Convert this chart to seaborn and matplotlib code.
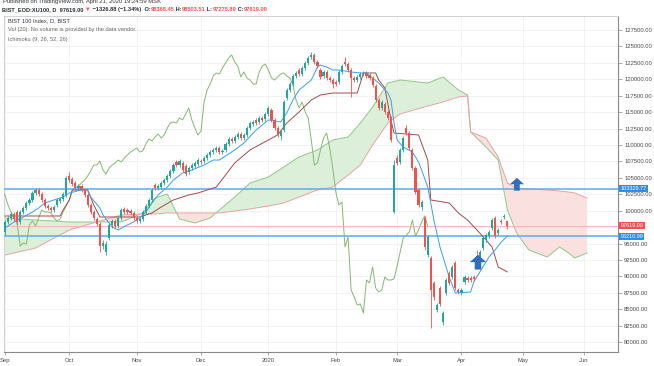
import numpy as np
import pandas as pd
import matplotlib
matplotlib.use("Agg")
import matplotlib.pyplot as plt
import seaborn as sns
from matplotlib.path import Path

# ---- daily candles, BIST 100 (bar index 0 = first bar of Sep 2019) ----
opens = [
    96760, 98280, 98890, 99500, 99800, 98280, 99800, 100410, 101170, 101630,
    102690, 103150, 102540, 101630, 100710, 100410, 100100, 100870, 101470, 101780,
    102390, 105280, 104820, 104210, 103450, 103760, 103150, 102390, 100870, 99800,
    98730, 97970, 94620, 93710, 95840, 97820, 98430, 97670, 98890, 100260,
    100100, 99950, 99650, 98890, 98430, 98730, 99800, 100710, 101630, 103910,
    103450, 103600, 104210, 104670, 105280, 106040, 107410, 106950, 107260, 106800,
    105890, 106500, 106800, 107100, 107560, 107560, 108020, 108480, 108930, 109240,
    109540, 108930, 109240, 110150, 110910, 110610, 111210, 111670, 111060, 111520,
    112580, 113190, 113800, 113500, 114110, 113950, 114720, 115320, 113800, 112580,
    111370, 112280, 117150, 118370, 119280, 120500, 121410, 120800, 121720, 122480,
    123390, 123690, 122630, 121410, 120500, 121110, 120190, 119890, 119590, 119590,
    121110, 122630, 122320, 121410, 120190, 119890, 120350, 120800, 120960, 120650,
    120190, 118980, 116850, 115630, 116240, 115020, 114110, 99800, 108020, 107410,
    109240, 112580, 111820, 109240, 106500, 103150, 100560, 98890, 93250, 92800,
    88990, 84880, 88230, 83060, 87470, 90520, 89910, 92040, 87930, 87470,
    89150, 89750, 89750, 89910, 93100, 92190, 94320, 95540, 96150, 97360,
    98890, 96600, 98430, 99040, 98368.45]
highs = [
    98580, 99190, 99800, 99800, 100100, 100100, 100710, 101470, 101930, 103000,
    103450, 103450, 102840, 101930, 101020, 100710, 100870, 101930, 102080, 102840,
    105280, 105890, 105130, 104520, 104060, 104060, 103450, 102690, 101170, 100100,
    99040, 98280, 95540, 95390, 98130, 98730, 98730, 99190, 100410, 100560,
    100410, 100260, 99950, 99190, 99040, 100100, 101020, 101930, 103450, 104210,
    104060, 104520, 104970, 105580, 106340, 107260, 107710, 107870, 107560, 107100,
    106800, 107260, 107560, 108020, 107870, 108320, 108780, 109240, 109540, 109840,
    109840, 109390, 110450, 111210, 111210, 111520, 111980, 111980, 111820, 112890,
    113650, 113800, 114110, 114410, 114410, 115020, 115930, 115630, 114110, 112890,
    112430, 116850, 118670, 119590, 120800, 121260, 121720, 122020, 122780, 123540,
    124150, 124000, 122930, 121720, 121410, 121410, 120500, 120190, 119890, 121410,
    122320, 123390, 122630, 121720, 120500, 120650, 121110, 121260, 121260, 120960,
    120500, 119280, 117150, 116850, 116540, 115320, 114410, 107710, 108480, 109540,
    111370, 113040, 112130, 109540, 106800, 103450, 101630, 99190, 96300, 93100,
    89300, 85950, 88540, 84730, 89750, 90820, 91740, 92340, 88230, 88230,
    90210, 90060, 90060, 90210, 94020, 94020, 96150, 96600, 97060, 98890,
    99190, 97360, 98730, 99500, 98503.51]
lows = [
    96300, 97970, 98580, 98430, 97970, 97970, 99500, 100100, 100870, 101320,
    102390, 102230, 101320, 100410, 100100, 99800, 99800, 100560, 101170, 101470,
    102080, 104370, 103760, 103150, 103150, 102840, 102080, 100560, 99500, 98580,
    97670, 93710, 94170, 93250, 95540, 97360, 97360, 97360, 98580, 99500,
    99500, 99340, 98580, 98130, 98130, 98430, 99500, 100410, 101320, 103150,
    103150, 103300, 103910, 104370, 104970, 105740, 106650, 106650, 105890, 105280,
    105580, 106190, 106500, 106800, 107100, 107260, 107710, 108170, 108630, 108930,
    108630, 108630, 108930, 109840, 110300, 110300, 110910, 110760, 110760, 111210,
    112280, 112890, 113040, 113190, 113500, 113650, 114410, 113500, 112280, 111210,
    110760, 111980, 116850, 118060, 118980, 120190, 120500, 120500, 121410, 122170,
    123090, 122320, 121720, 120040, 120190, 119890, 119590, 118670, 118980, 119280,
    120800, 122020, 121110, 117300, 119590, 119590, 120040, 120500, 120190, 119890,
    118820, 116540, 115320, 115320, 114720, 113800, 110450, 99650, 106950, 107100,
    108930, 111520, 109240, 106190, 102540, 100560, 100100, 94020, 92950, 82150,
    86410, 84580, 85490, 82600, 87170, 88690, 89600, 87930, 87320, 87170,
    88840, 89150, 89150, 89300, 91280, 91890, 94020, 95230, 95840, 97060,
    95840, 96300, 97970, 98730, 97275.89]
closes = [
    98280, 98890, 99500, 98730, 98280, 99800, 100410, 101170, 101630, 102690,
    103150, 102540, 101630, 100710, 100410, 100100, 100560, 101630, 101780, 102540,
    104970, 104670, 104060, 103450, 103760, 103150, 102390, 100870, 99800, 98890,
    97970, 94620, 95080, 94930, 97820, 98430, 97670, 98890, 100100, 99800,
    99800, 99650, 98890, 98430, 98730, 99800, 100710, 101630, 103150, 103450,
    103760, 104210, 104670, 105280, 106040, 106950, 106950, 107560, 106190, 105580,
    106500, 106950, 107260, 107710, 107410, 108020, 108480, 108930, 109240, 109540,
    108930, 109080, 110150, 110910, 110610, 111210, 111670, 111060, 111520, 112580,
    113350, 113500, 113350, 114110, 113800, 114720, 115630, 113800, 112580, 111520,
    112130, 116540, 118370, 119280, 120500, 120960, 120800, 121720, 122480, 123240,
    123690, 122630, 122020, 120350, 121110, 120190, 119890, 119280, 119280, 121110,
    122020, 122320, 121410, 120190, 119890, 120350, 120800, 120960, 120500, 120190,
    119130, 116850, 115630, 116540, 115020, 114110, 110760, 106950, 107260, 109240,
    111060, 111820, 109540, 106500, 102840, 100870, 101320, 94470, 96000, 87930,
    86860, 85650, 85800, 84430, 89450, 88990, 91430, 88230, 87620, 87930,
    89910, 89450, 89450, 89600, 91580, 93710, 95840, 96300, 96760, 98580,
    96150, 97060, 98280, 99190, 97619.00]

# ---- Ichimoku (9, 26, 52, 26) ----
tenkan_x = [0, 3, 6, 9, 11, 13, 16, 19, 21, 25, 27, 28, 31, 32, 35, 37, 40, 42, 44, 46,
            48, 50, 53, 55, 58, 61, 65, 68, 70, 75, 78, 82, 86, 90, 92, 94, 96, 100, 102, 103,
            105, 107, 109, 113, 116, 118, 120, 122, 125, 126, 127, 128, 130, 133, 135, 136, 138, 139, 140, 142,
            144, 145, 147, 152, 153, 156, 158, 160, 162, 164]
tenkan = [97360, 98280, 99040, 99800, 100410, 101170, 101630, 102080, 102690, 103150,
          103150, 102080, 100410, 99340, 97520, 97060, 97820, 98280, 98890, 99800,
          101170, 102390, 103600, 104670, 105740, 106190, 106950, 107710, 107710, 109240,
          110300, 112280, 113800, 113500, 114870, 116850, 118370, 119890, 121870, 122170,
          121870, 121410, 121410, 121110, 120960, 120960, 120190, 119430, 117910, 116850,
          113350, 110760, 109690, 108930, 107410, 106190, 103600, 101170, 98580, 94470,
          91430, 89910, 87470, 87620, 89150, 91430, 92950, 94020, 95230, 96150]
kijun_x = [0, 18, 19, 21, 22, 27, 29, 31, 44, 48, 51, 55, 60, 63, 66, 69, 75, 80, 89, 92,
           96, 100, 103, 107, 115, 116, 117, 121, 122, 124, 126, 127, 135, 138, 139, 145, 148, 151, 155, 159,
           161, 164]
kijun = [99190, 99190, 100100, 101630, 103150, 103150, 100870, 99040, 99040, 99650,
         100560, 101630, 102390, 102690, 103150, 103600, 107260, 109240, 111520, 113350,
         115020, 116850, 117610, 117910, 117910, 119430, 120960, 120960, 119890, 118670,
         113800, 111820, 111520, 107710, 101630, 101170, 99650, 98580, 96600, 94470,
         91430, 90670]
cloud_x = [0, 10, 21, 31, 38, 45, 49, 53, 57, 62, 67, 70, 75, 80, 86, 91, 96, 102, 107, 112,
           116, 120, 125, 129, 138, 143, 148, 151, 152, 157, 161, 164, 167, 171, 177, 181, 184, 186, 190]
span_a = [98890, 98580, 98280, 98280, 98280, 99650, 101930, 102540, 98730, 98130,
          98890, 100100, 102080, 104210, 105130, 106650, 108170, 109240, 110760, 111210,
          113350, 115780, 119430, 119890, 119430, 120350, 118370, 117610, 111980, 109690,
          107710, 100100, 96600, 94020, 92950, 94470, 93560, 92800, 93560]
span_b = [93250, 94320, 97060, 98430, 99340, 99500, 99500, 99650, 99650, 99650,
          99650, 99650, 99950, 100260, 100710, 101170, 102080, 103150, 103600, 105430,
          106950, 109990, 113350, 114720, 115930, 116540, 117300, 117460, 111980, 111060,
          108170, 104210, 103450, 103300, 103150, 103000, 102840, 102690, 101930]

# horizontal levels drawn on the chart and last price
level_lines = [103329.77, 96210.99]
last_price = 97619.00

# arrow drawings (bar index, price)
arrow_x = [154.4, 167.1]
arrow_y = [92040, 103910]
arrow_size = [140, 105]

month_pos = [0, 21, 43, 64, 86, 108, 128, 149, 169, 189]
month_labels = ['Sep', 'Oct', 'Nov', 'Dec', '2020', 'Feb', 'Mar', 'Apr', 'May', 'Jun']
y_ticks = list(range(80000, 127501, 2500))
hidden_tick = 97500  # covered by the last-price tag on the scale


def draw_segments(fig, x, y, parts, size, weight='normal'):
    renderer = fig.canvas.get_renderer()
    for text, color in parts:
        t = fig.text(x, y, text, color=color, fontsize=size, fontweight=weight,
                     ha='left', va='center')
        x += t.get_window_extent(renderer).width / fig.bbox.width


def make_chart():
    sns.set_theme(style="white")
    plt.rcParams['font.family'] = ['Liberation Sans', 'DejaVu Sans']

    fig = plt.figure(figsize=(6.54, 3.66), dpi=100)
    ax = fig.add_axes([4 / 654, 14 / 366, 614 / 654, 336 / 366])

    df = pd.DataFrame({'open': opens, 'high': highs, 'low': lows, 'close': closes})
    df['bar'] = np.arange(len(df))
    up = df['close'] >= df['open']
    colors = np.where(up, '#26a69a', '#ef5350')

    # cloud
    a = np.array(span_a, dtype=float)
    b = np.array(span_b, dtype=float)
    ax.fill_between(cloud_x, a, b, where=a >= b, interpolate=True,
                    color='#dcefd9', lw=0, zorder=1)
    ax.fill_between(cloud_x, a, b, where=a < b, interpolate=True,
                    color='#fbe0e0', lw=0, zorder=1)
    sns.lineplot(x=cloud_x, y=span_a, ax=ax, color='#93c78a', lw=0.7, legend=False, zorder=2)
    sns.lineplot(x=cloud_x, y=span_b, ax=ax, color='#e6a4a4', lw=0.7, legend=False, zorder=2)

    # lagging span = closes shifted back 26 bars
    sns.lineplot(x=df['bar'] - 26, y=df['close'], ax=ax, color='#86b872', lw=0.7,
                 legend=False, zorder=3)

    # price levels
    for lv in level_lines:
        ax.axhline(lv, color='#62a9ec', lw=1.1, zorder=3)
    ax.axhline(last_price, color='#f6b0b0', lw=0.6, zorder=3)

    sns.lineplot(x=kijun_x, y=kijun, ax=ax, color='#a24b4b', lw=0.7, legend=False, zorder=4)
    sns.lineplot(x=tenkan_x, y=tenkan, ax=ax, color='#3f9de9', lw=0.7, legend=False, zorder=4)

    # candles
    ax.vlines(df['bar'], df['low'], df['high'], colors=colors, lw=0.6, zorder=5)
    body = np.maximum((df['close'] - df['open']).abs(), 80)
    ax.bar(df['bar'], body, bottom=np.minimum(df['open'], df['close']), width=0.7,
           color=colors, lw=0, zorder=6)

    # arrow drawings
    arrow = Path([(0, 1), (1, 0.1), (0.4, 0.1), (0.4, -0.8), (-0.4, -0.8), (-0.4, 0.1), (-1, 0.1), (0, 1)],
                 [Path.MOVETO] + [Path.LINETO] * 6 + [Path.CLOSEPOLY])
    ax.scatter(arrow_x, arrow_y, s=arrow_size, marker=arrow, color='#2f6fba', lw=0, zorder=7)

    # axes
    ax.set_xlim(-0.3, 200.1)
    ax.set_ylim(78490, 129630)
    ax.yaxis.tick_right()
    ax.set_yticks(y_ticks)
    ax.set_yticklabels(['' if v == hidden_tick else f"{v:.2f}" for v in y_ticks])
    ax.set_xticks(month_pos)
    ax.set_xticklabels(month_labels)
    ax.tick_params(axis='y', length=3, width=0.5, color='#8a8a8a', labelsize=4.2,
                   labelcolor='#4a4a4a', pad=1.5, right=True)
    ax.tick_params(axis='x', length=2, width=0.5, color='#8a8a8a', labelsize=4.2,
                   labelcolor='#4a4a4a', pad=2, bottom=True)
    ax.set_xlabel('')
    ax.set_ylabel('')
    ax.grid(True, color='#eef0f4', lw=0.6, zorder=0)
    for side in ['left', 'top']:
        ax.spines[side].set_color('#c8cbd2')
        ax.spines[side].set_linewidth(0.6)
    for side in ['right', 'bottom']:
        ax.spines[side].set_color('#8a8a8a')
        ax.spines[side].set_linewidth(0.8)

    # price tags on the scale (the two lower ones sit edge to edge)
    tr = ax.get_yaxis_transform()
    tags = [(level_lines[0], level_lines[0], '#2f8fe8'),
            (last_price, last_price + 150, '#ef5350'),
            (level_lines[1], level_lines[1] - 150, '#2f8fe8')]
    for val, ypos, c in tags:
        ax.text(1.004, ypos, f"{val:.2f}", transform=tr, ha='left', va='center',
                fontsize=4.0, color='white', zorder=10, clip_on=False,
                bbox=dict(boxstyle='square,pad=0.2', fc=c, ec='none'))

    # header
    fig.text(3 / 654, 1 - 1.5 / 366, "Published on TradingView.com, April 21, 2020 19:24:59 MSK",
             fontsize=4.2, color='#333333', ha='left', va='center')
    red = '#ef5350'
    dark = '#2a2e39'
    draw_segments(fig, 2 / 654, 1 - 9.5 / 366, [
        ("BIST_EOD:XU100, D  97619.00 ", dark), ("\u25bc", red),
        (" \u22121326.88 (\u22121.34%)  O:", dark), ("98368.45", red),
        (" H:", dark), ("98503.51", red), (" L:", dark), ("97275.89", red),
        (" C:", dark), ("97619.00", red)], size=4.1, weight='bold')

    # legend lines
    fig.text(8 / 654, 1 - 21 / 366, "BIST 100 Index, D, BIST", fontsize=4.1,
             color='#333333', ha='left', va='center')
    fig.text(8 / 654, 1 - 30 / 366, "Vol (20): No volume is provided by the data vendor.",
             fontsize=4.1, color='#666666', ha='left', va='center')
    fig.text(8 / 654, 1 - 40 / 366, "Ichimoku (9, 26, 52, 26)", fontsize=4.1,
             color='#666666', ha='left', va='center')

    fig.savefig('out.png', dpi=100)
    plt.close(fig)


if __name__ == '__main__':
    make_chart()
